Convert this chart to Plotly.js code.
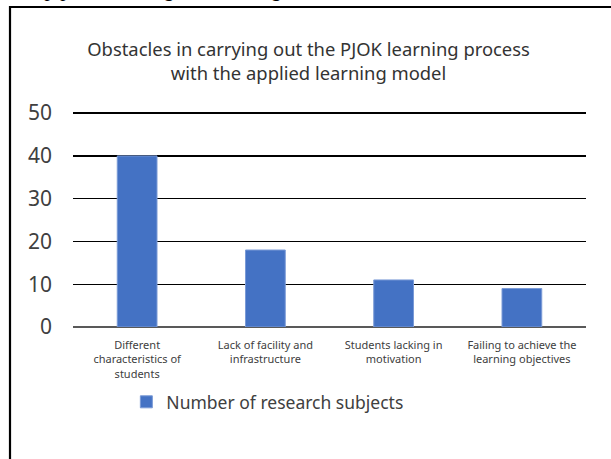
<!DOCTYPE html>
<html>
<head>
<meta charset="utf-8">
<script src="https://cdn.plot.ly/plotly-3.0.1.min.js"></script>
<style>html,body{margin:0;padding:0;background:#fff;}#chart{width:611px;height:459px;}</style>
</head>
<body>
<div id="chart"></div>
<script>
const categories = [
  "Different<br>characteristics of<br>students",
  "Lack of facility and<br>infrastructure",
  "Students lacking in<br>motivation",
  "Failing to achieve the<br>learning objectives"
];
const subjects = [40, 18, 11, 9];
const seriesName = "Number of research subjects";
const titleText = "Obstacles in carrying out the PJOK learning process<br>with the applied learning model";
const captionText = "p process using the learning model";
const yTicks = [0, 10, 20, 30, 40, 50];

const textColor = "#404040";
const font = "Noto Sans, Open Sans, sans-serif";

const data = [{
  type: "bar",
  x: categories,
  y: subjects,
  name: seriesName,
  marker: {color: "#4472C4", line: {color: "#7a9ad6", width: 1}},
  width: 0.31,
  showlegend: true,
  hoverinfo: "skip"
}];

const layout = {
  width: 611, height: 459,
  margin: {l: 73, r: 25, t: 111, b: 132},
  paper_bgcolor: "#fff", plot_bgcolor: "#fff",
  font: {family: font, color: textColor},
  title: {
    text: titleText,
    font: {family: font, size: 18.4, color: "#333"},
    x: 0.505, xanchor: "center", y: 0.877, yanchor: "middle"
  },
  xaxis: {
    type: "category",
    tickfont: {family: font, size: 11, color: textColor},
    showgrid: false, showline: false, ticks: "", ticklabelstandoff: 10
  },
  yaxis: {
    range: [0, 50.5], tickvals: yTicks, ticktext: yTicks.map(String),
    tickfont: {family: font, size: 21, color: textColor},
    showgrid: true, gridcolor: "#000", gridwidth: 1.3,
    zeroline: true, zerolinecolor: "#595959", zerolinewidth: 2,
    showline: false, ticks: "", ticklabelstandoff: 20
  },
  showlegend: true,
  legend: {
    orientation: "h", x: 0.104, xanchor: "left", y: -0.347, yanchor: "middle",
    font: {family: font, size: 17.5, color: textColor},
    bgcolor: "rgba(0,0,0,0)"
  },
  shapes: [{
    type: "path", xref: "paper", yref: "paper",
    path: "M -0.1228 -0.7 L -0.1228 1.4815 L 1.1 1.4815",
    line: {color: "#000", width: 2.2}
  }],
  annotations: [{
    text: captionText, xref: "paper", yref: "paper",
    x: -0.06, xanchor: "left", y: 1.502, yanchor: "bottom",
    showarrow: false,
    font: {family: "Liberation Serif, serif", size: 21, color: "#000", style: "italic"}
  }]
};

Plotly.newPlot("chart", data, layout, {displayModeBar: false, staticPlot: true});
</script>
</body>
</html>
